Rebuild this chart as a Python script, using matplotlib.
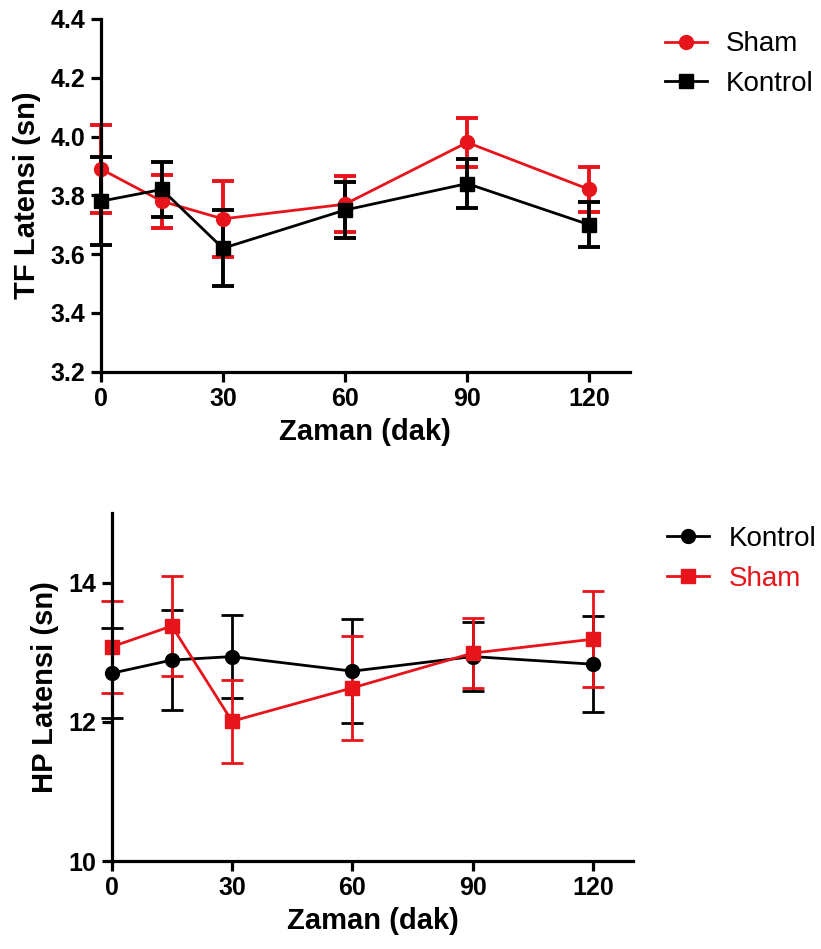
import matplotlib
matplotlib.use("Agg")
import matplotlib.pyplot as plt
from matplotlib.lines import Line2D

plt.rcParams['font.family'] = ['Liberation Sans', 'DejaVu Sans']

# time points (dak)
zaman = [0, 15, 30, 60, 90, 120]

# TF latency (sn)
tf_sham = [3.89, 3.78, 3.72, 3.77, 3.98, 3.82]
tf_sham_err = [0.15, 0.09, 0.13, 0.095, 0.084, 0.077]
tf_kontrol = [3.78, 3.82, 3.62, 3.75, 3.84, 3.70]
tf_kontrol_err = [0.15, 0.092, 0.13, 0.095, 0.084, 0.077]

# HP latency (sn)
hp_kontrol = [12.70, 12.89, 12.94, 12.73, 12.94, 12.83]
hp_kontrol_err = [0.65, 0.72, 0.60, 0.75, 0.50, 0.69]
hp_sham = [13.08, 13.38, 12.01, 12.49, 12.99, 13.19]
hp_sham_err = [0.66, 0.72, 0.60, 0.75, 0.50, 0.69]

RED = '#e8141b'
BLACK = '#000000'

fig = plt.figure(figsize=(8.21, 9.49), dpi=100)
ax1 = fig.add_axes([0.1227, 0.6083, 0.6447, 0.3717])
ax2 = fig.add_axes([0.136, 0.0927, 0.6353, 0.3664])


def style_axes(ax):
    for s in ['top', 'right']:
        ax.spines[s].set_visible(False)
    for s in ['left', 'bottom']:
        ax.spines[s].set_linewidth(2.3)
    ax.tick_params(width=2.3, length=7, labelsize=18, pad=4)
    for lab in ax.get_xticklabels() + ax.get_yticklabels():
        lab.set_fontweight('bold')
    ax.set_xlabel('Zaman (dak)', fontsize=21, fontweight='bold', labelpad=5)


def key(color, marker):
    return Line2D([], [], color=color, marker=marker, markersize=10, linewidth=2)


# top panel
ax1.errorbar(zaman, tf_sham, yerr=tf_sham_err, color=RED, marker='o', markersize=10,
             linewidth=2, elinewidth=2.8, capsize=8, capthick=2.8, clip_on=False)
ax1.errorbar(zaman, tf_kontrol, yerr=tf_kontrol_err, color=BLACK, marker='s', markersize=10,
             linewidth=2, elinewidth=2.8, capsize=8, capthick=2.8, clip_on=False)
ax1.set_xlim(0, 130)
ax1.set_ylim(3.2, 4.4)
ax1.set_xticks([0, 30, 60, 90, 120])
ax1.set_yticks([3.2, 3.4, 3.6, 3.8, 4.0, 4.2, 4.4])
ax1.set_yticklabels(['%.1f' % v for v in [3.2, 3.4, 3.6, 3.8, 4.0, 4.2, 4.4]])
ax1.set_ylabel('TF Latensi (sn)', fontsize=21, fontweight='bold', labelpad=7)
style_axes(ax1)
ax1.legend([key(RED, 'o'), key(BLACK, 's')], ['Sham', 'Kontrol'],
           loc='upper left', bbox_to_anchor=(0.81, 0.967), bbox_transform=fig.transFigure,
           frameon=False, fontsize=20, handlelength=1.5, handletextpad=0.7,
           labelspacing=0.5, borderaxespad=0, borderpad=0)

# bottom panel
ax2.errorbar(zaman, hp_kontrol, yerr=hp_kontrol_err, color=BLACK, marker='o', markersize=10,
             linewidth=2, elinewidth=2, capsize=8, capthick=2, clip_on=False)
ax2.errorbar(zaman, hp_sham, yerr=hp_sham_err, color=RED, marker='s', markersize=10,
             linewidth=2, elinewidth=2, capsize=8, capthick=2, clip_on=False)
ax2.set_xlim(0, 130)
ax2.set_ylim(10, 15)
ax2.set_xticks([0, 30, 60, 90, 120])
ax2.set_yticks([10, 12, 14])
ax2.set_ylabel('HP Latensi (sn)', fontsize=21, fontweight='bold', labelpad=7)
style_axes(ax2)
leg2 = ax2.legend([key(BLACK, 'o'), key(RED, 's')], ['Kontrol', 'Sham'],
                  loc='upper left', bbox_to_anchor=(0.813, 0.446), bbox_transform=fig.transFigure,
                  frameon=False, fontsize=20, handlelength=1.5, handletextpad=0.7,
                  labelspacing=0.5, borderaxespad=0, borderpad=0)
leg2.get_texts()[1].set_color(RED)

fig.savefig('out.png', dpi=100)
